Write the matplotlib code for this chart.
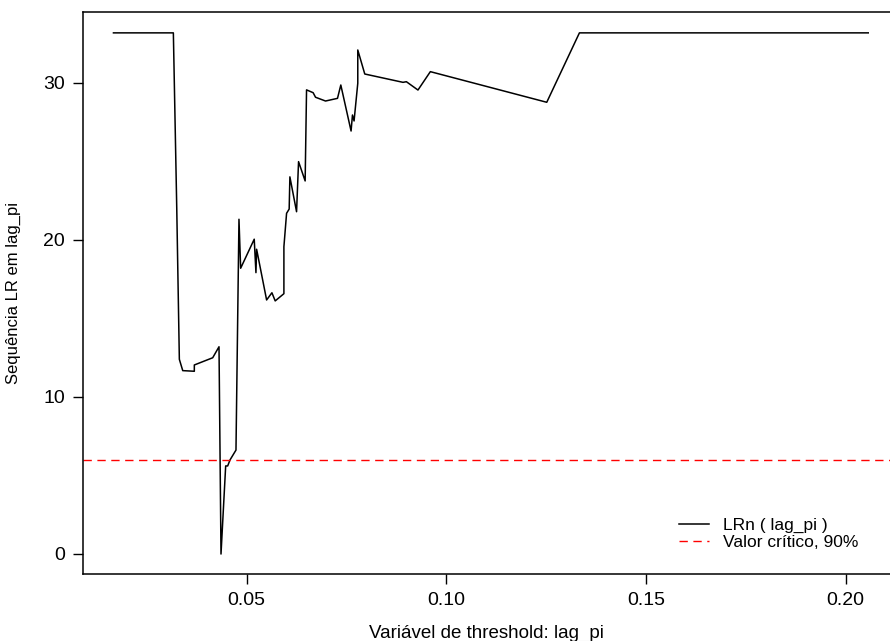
import matplotlib
matplotlib.use("Agg")
import matplotlib.pyplot as plt

# threshold values (lag_pi) and LR sequence
lag_pi = [0.01665, 0.03165, 0.0325, 0.03315, 0.034, 0.0369, 0.0369, 0.0415,
          0.04308, 0.04358, 0.04475, 0.04525, 0.04583, 0.04733, 0.04808, 0.0485,
          0.0519, 0.05233, 0.0525, 0.055, 0.05633, 0.05715, 0.05933, 0.05933,
          0.06, 0.06065, 0.06083, 0.0625, 0.063, 0.06465, 0.065, 0.06665,
          0.06725, 0.06975, 0.07275, 0.07358, 0.07615, 0.0765, 0.0769, 0.07783,
          0.07783, 0.07958, 0.08915, 0.09, 0.0929, 0.096, 0.12515, 0.13333, 0.20565]
lr_seq = [33.17, 33.17, 22.0, 12.38, 11.66, 11.62, 12.02, 12.48,
          13.18, -0.02, 5.59, 5.59, 5.97, 6.6, 21.3, 18.18,
          20.03, 17.9, 19.39, 16.16, 16.62, 16.1, 16.56, 19.55,
          21.68, 21.95, 24.0, 21.78, 24.97, 23.74, 29.54, 29.36,
          29.07, 28.83, 29.0, 29.85, 26.92, 27.94, 27.56, 29.96,
          32.08, 30.55, 30.02, 30.06, 29.53, 30.7, 28.75, 33.17, 33.17]
crit_90 = 5.96
x_ticks = [0.05, 0.10, 0.15, 0.20]
y_ticks = [0, 10, 20, 30]

plt.rcParams['font.family'] = ['Liberation Sans', 'DejaVu Sans']

fig = plt.figure(figsize=(8.9, 6.41), dpi=100)
ax = fig.add_axes([0.0936, 0.1053, 0.9064, 0.876])

ax.plot(lag_pi, lr_seq, color='black', lw=1.1, label='LRn ( lag_pi )')
ax.axhline(crit_90, color='red', lw=1.0, ls=(0, (6, 4)), label='Valor crítico, 90%')

ax.set_xlim(0.0091, 0.2111)
ax.set_ylim(-1.26, 34.5)
ax.set_xticks(x_ticks)
ax.set_xticklabels([f"{v:.2f}" for v in x_ticks])
ax.set_yticks(y_ticks)
ax.tick_params(axis='both', labelsize=14, length=7, width=1, direction='out', pad=6)
for s in ['left', 'bottom', 'top']:
    ax.spines[s].set_linewidth(1.1)
ax.spines['right'].set_visible(False)

ax.set_xlabel('Variável de threshold: lag_pi', fontsize=13.5, labelpad=12)
ax.set_ylabel('Sequência LR em lag_pi', fontsize=12, labelpad=16)

fig.legend(*ax.get_legend_handles_labels(), loc='upper left',
           bbox_to_anchor=(0.763, 0.192), frameon=False, fontsize=12.5,
           handlelength=1.75, handletextpad=0.8, labelspacing=0.08,
           borderpad=0, borderaxespad=0)

fig.savefig('out.png', dpi=100)
